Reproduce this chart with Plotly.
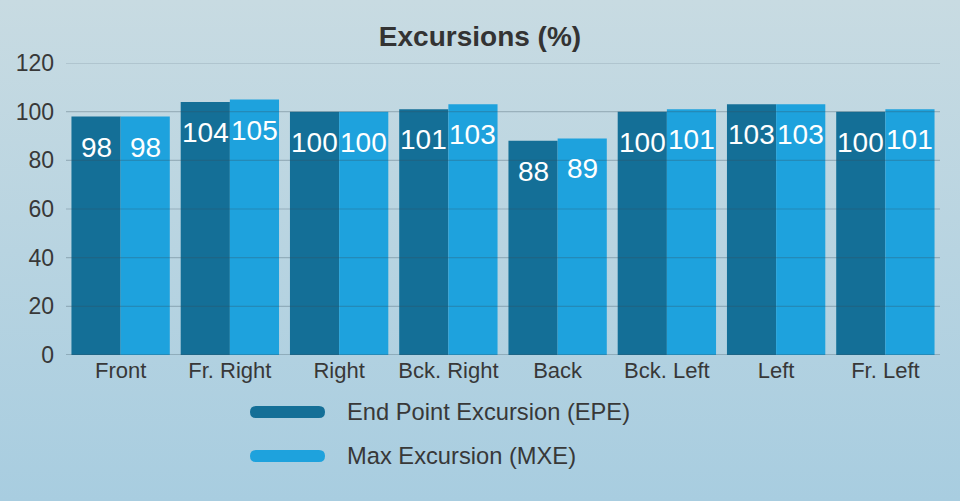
from urllib.parse import quote

import plotly.graph_objects as go

# chart data
directions = ["Front", "Fr. Right", "Right", "Bck. Right", "Back", "Bck. Left", "Left", "Fr. Left"]
epe_values = [98, 104, 100, 101, 88, 100, 103, 100]
mxe_values = [98, 105, 100, 103, 89, 101, 103, 101]
series_names = ["End Point Excursion (EPE)", "Max Excursion (MXE)"]
y_ticks = [0, 20, 40, 60, 80, 100, 120]

EPE_COLOR = "#146f97"
MXE_COLOR = "#1ea2dd"
TEXT_COLOR = "#383838"
FONT = "Liberation Sans, Arial, sans-serif"

W, H = 960, 501
M_L, M_R, M_T, M_B = 66, 20, 63, 146
PLOT_W = W - M_L - M_R
PLOT_H = H - M_T - M_B
BARGAP = 0.1


def px_x(x):
    return (x - M_L) / PLOT_W


def px_y(y):
    return (H - M_B - y) / PLOT_H


bg_svg = (
    "<svg xmlns='http://www.w3.org/2000/svg' width='960' height='501' preserveAspectRatio='none'>"
    "<defs><linearGradient id='g' x1='0' y1='0' x2='0' y2='1'>"
    "<stop offset='0' stop-color='#c8dbe2'/><stop offset='1' stop-color='#a8cde0'/>"
    "</linearGradient></defs>"
    "<rect x='0' y='0' width='960' height='501' fill='url(#g)'/></svg>"
)
bg_uri = "data:image/svg+xml;charset=utf-8," + quote(bg_svg)

fig = go.Figure()
colors = [EPE_COLOR, MXE_COLOR]
for name, values, color in zip(series_names, [epe_values, mxe_values], colors):
    fig.add_trace(go.Bar(x=directions, y=values, name=name, hoverinfo="skip",
                         marker=dict(color=color, line=dict(width=0))))

# value labels inside the top of each bar
bar_w = PLOT_W / len(directions) * (1 - BARGAP) / 2
annotations = []
for k, values in enumerate([epe_values, mxe_values]):
    shift = (k - 0.5) * bar_w
    for cat, v in zip(directions, values):
        annotations.append(dict(
            x=cat, y=v, xref="x", yref="y", text=str(v), showarrow=False,
            xshift=shift, yshift=-13, yanchor="top", xanchor="center",
            font=dict(family=FONT, size=28, color="white"),
        ))

# horizontal grid drawn over the bars
shapes = []
for t in y_ticks:
    shapes.append(dict(
        type="line", xref="paper", yref="y", x0=0, x1=1, y0=t, y1=t, layer="above",
        line=dict(color="rgba(55,75,90,0.28)", width=2 if t == 0 else 1.2),
    ))

# hand-made legend with long rounded swatches
swatch = "M6,-6 L69,-6 Q75,-6 75,0 Q75,6 69,6 L6,6 Q0,6 0,0 Q0,-6 6,-6 Z"
for i, (name, color) in enumerate(zip(series_names, colors)):
    yc = 412 + 44 * i
    shapes.append(dict(
        type="path", xref="paper", yref="paper", xsizemode="pixel", ysizemode="pixel",
        xanchor=px_x(250), yanchor=px_y(yc), path=swatch,
        fillcolor=color, line=dict(width=0), layer="above",
    ))
    annotations.append(dict(
        x=px_x(345), y=px_y(yc), xref="paper", yref="paper", text=name, showarrow=False,
        xanchor="left", yanchor="middle", font=dict(family=FONT, size=23.7, color=TEXT_COLOR),
    ))

fig.update_layout(
    width=W, height=H,
    margin=dict(l=M_L, r=M_R, t=M_T, b=M_B, pad=0),
    paper_bgcolor="#b8d4e1",
    plot_bgcolor="rgba(0,0,0,0)",
    showlegend=False,
    barmode="group", bargap=BARGAP, bargroupgap=0,
    font=dict(family=FONT, color=TEXT_COLOR),
    title=dict(
        text="Excursions (%)", xref="container", x=0.5, xanchor="center",
        yref="container", y=1 - 36 / H, yanchor="middle",
        font=dict(family=FONT, size=28, color="#333333", weight="bold"),
    ),
    xaxis=dict(showgrid=False, zeroline=False, showline=False, ticks="",
               tickfont=dict(size=22, color=TEXT_COLOR)),
    yaxis=dict(range=[0, 120], tickvals=y_ticks, showgrid=False, zeroline=False, showline=False,
               ticks="", ticklabelstandoff=11, tickfont=dict(size=23, color=TEXT_COLOR)),
    images=[dict(
        source=bg_uri, xref="paper", yref="paper", x=px_x(0), y=px_y(0),
        sizex=W / PLOT_W, sizey=H / PLOT_H, xanchor="left", yanchor="top",
        sizing="stretch", layer="below",
    )],
    shapes=shapes,
    annotations=annotations,
)

fig.write_html(
    "out.html",
    config={"displayModeBar": False},
    post_script="document.body.style.margin='0';document.body.style.overflow='hidden';",
)
